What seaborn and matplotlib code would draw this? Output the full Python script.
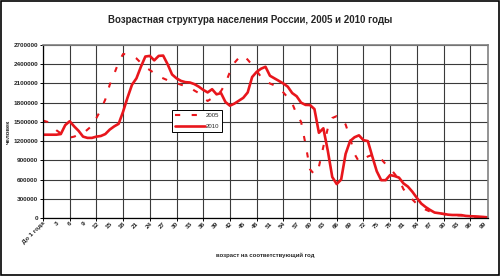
import numpy as np
import pandas as pd
import matplotlib
matplotlib.use("Agg")
import matplotlib.pyplot as plt
import matplotlib.ticker as mticker
from matplotlib.patches import Rectangle
from matplotlib.lines import Line2D
import seaborn as sns

ages = list(range(0, 101))
age_labels = ["До 1 года"] + [str(a) for a in range(3, 100, 3)]

pop_2005 = [1520000, 1500000, 1430000, 1370000, 1320000, 1280000, 1255000, 1270000, 1300000, 1320000,
            1380000, 1440000, 1560000, 1690000, 1850000, 2080000, 2250000, 2430000, 2560000, 2550000,
            2530000, 2490000, 2420000, 2350000, 2310000, 2260000, 2210000, 2180000, 2150000, 2120000,
            2105000, 2080000, 2060000, 2040000, 1990000, 1950000, 1880000, 1826000, 1870000, 1920000,
            1980000, 2100000, 2280000, 2420000, 2500000, 2544000, 2470000, 2390000, 2300000, 2200000,
            2130000, 2100000, 2070000, 2030000, 1960000, 1880000, 1790000, 1620000, 1500000, 1150000,
            760000, 680000, 800000, 1113000, 1400000, 1560000, 1590000, 1560000, 1460000, 1250000,
            1000000, 880000, 900000, 960000, 985000, 965000, 920000, 840000, 776000, 690000,
            600000, 450000, 370000, 290000, 220000, 170000, 130000, 100000, 80000, 70000,
            60000, 52000, 45000, 42000, 40000, 32000, 25000, 20000, 16000, 12000, 8000]

pop_2010 = [1300000, 1300000, 1300000, 1300000, 1310000, 1450000, 1510000, 1430000, 1360000, 1270000,
            1250000, 1250000, 1270000, 1280000, 1310000, 1380000, 1430000, 1470000, 1660000, 1880000,
            2080000, 2180000, 2360000, 2520000, 2530000, 2460000, 2530000, 2535000, 2400000, 2240000,
            2180000, 2140000, 2120000, 2115000, 2090000, 2050000, 2000000, 1960000, 2010000, 1930000,
            1950000, 1810000, 1753000, 1785000, 1830000, 1875000, 1960000, 2200000, 2280000, 2330000,
            2360000, 2220000, 2180000, 2140000, 2100000, 2050000, 1950000, 1900000, 1800000, 1765000,
            1763000, 1700000, 1330000, 1400000, 1050000, 640000, 530000, 600000, 1000000, 1200000,
            1260000, 1290000, 1215000, 1200000, 960000, 730000, 590000, 590000, 670000, 655000,
            630000, 540000, 490000, 410000, 315000, 225000, 170000, 125000, 85000, 75000,
            65000, 52000, 47000, 47000, 45000, 33000, 28000, 25000, 21000, 16000, 10000]

years = ["2005", "2010"]

df = pd.DataFrame({
    "age": ages * 2,
    "pop": pop_2005 + pop_2010,
    "year": [years[0]] * len(ages) + [years[1]] * len(ages),
})

sns.set_theme(style="white")
plt.rcParams["font.family"] = ["Liberation Sans", "DejaVu Sans"]

RED = "#e8161c"
fig = plt.figure(figsize=(5.0, 2.76), dpi=100)
ax = fig.add_axes([43 / 500, 1 - 218 / 276, 445 / 500, 173 / 276])

sns.lineplot(data=df, x="age", y="pop", hue="year", style="year",
             palette={"2005": RED, "2010": RED},
             dashes={"2005": (2.5, 5.5), "2010": ""},
             size="year", sizes={"2005": 1.5, "2010": 1.9},
             ax=ax, legend=False)

ax.set_xlim(0, 100)
ax.set_ylim(0, 2700000)

ax.yaxis.set_major_locator(mticker.MultipleLocator(300000))
ax.yaxis.set_major_formatter(mticker.FuncFormatter(lambda v, p: f"{int(round(v))}"))
ax.xaxis.set_major_locator(mticker.FixedLocator(list(range(0, 100, 3))))
ax.xaxis.set_major_formatter(mticker.FixedFormatter(age_labels))
ax.xaxis.set_minor_locator(mticker.MultipleLocator(6))
ax.xaxis.remove_overlapping_locs = False

ax.grid(False)
ax.yaxis.grid(True, which="major", color="#3a3a3a", linewidth=0.8)
ax.xaxis.grid(True, which="minor", color="#3a3a3a", linewidth=0.8)
ax.set_axisbelow(True)

ax.tick_params(axis="y", which="major", length=2.5, width=0.7, color="black",
               labelsize=4.6, pad=1, left=True)
ax.tick_params(axis="x", which="major", length=0, labelsize=4.6, pad=2, bottom=False)
ax.tick_params(axis="x", which="minor", length=2.5, width=0.7, color="black", bottom=True)
for lab in ax.get_xticklabels():
    lab.set_rotation(45)
    lab.set_ha("right")
    lab.set_rotation_mode("anchor")
    lab.set_fontweight("bold")
for lab in ax.get_yticklabels():
    lab.set_fontweight("bold")

for s in ["left", "bottom"]:
    ax.spines[s].set_color("black")
    ax.spines[s].set_linewidth(0.9)
for s in ["top", "right"]:
    ax.spines[s].set_color("#808080")
    ax.spines[s].set_linewidth(1.2)

ax.set_xlabel("возраст на соответствующий год", fontsize=4.3, fontweight="bold", labelpad=5)
ax.set_ylabel("человек", fontsize=4.3, fontweight="bold")
ax.yaxis.set_label_coords(-0.072, 0.5)

fig.suptitle("Возрастная структура населения России, 2005 и 2010 годы",
             fontsize=7, fontweight="bold", y=1 - 20 / 276, va="center")

handles = [Line2D([], [], color=RED, lw=1.5, dashes=(2.5, 5.5)),
           Line2D([], [], color=RED, lw=1.9)]
leg = ax.legend(handles, years, loc="upper left", bbox_to_anchor=(0.29, 0.625),
                fontsize=4.3, handlelength=5, frameon=True, fancybox=False,
                borderpad=0.5, labelspacing=0.9, handletextpad=0.1, borderaxespad=0)
leg.get_frame().set_edgecolor("black")
leg.get_frame().set_linewidth(0.7)
leg.get_frame().set_facecolor("white")
leg.get_frame().set_alpha(1)

fig.patches.append(Rectangle((0.002, 0.003), 0.996, 0.994, transform=fig.transFigure,
                             fill=False, edgecolor="black", linewidth=1.2))

fig.savefig("out.png", dpi=100, facecolor="white")
